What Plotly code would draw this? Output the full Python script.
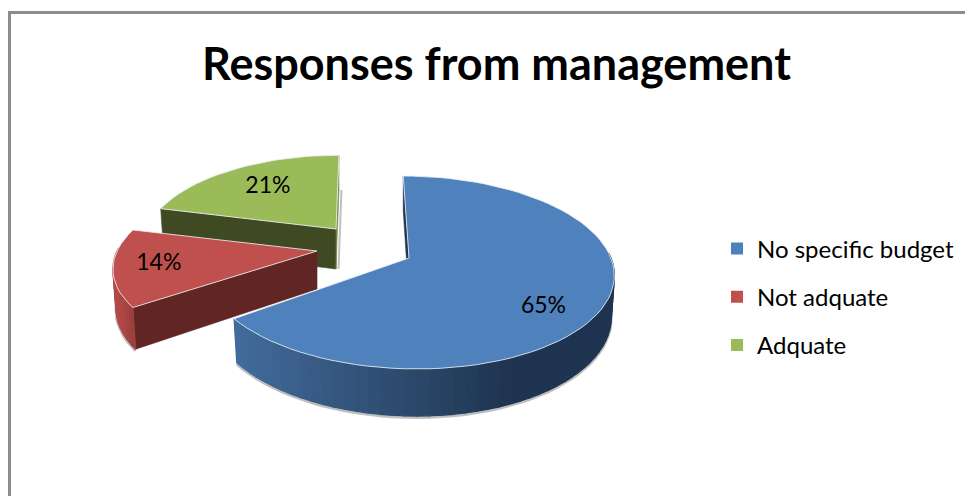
import math
import plotly.graph_objects as go

CATEGORIES = ["No specific budget", "Not adquate", "Adquate"]
PERCENTS = [65, 14, 21]
TITLE = "Responses from management"

TOP_COLORS = ["#4f81bd", "#c0504d", "#9bbb59"]
RADIAL_START = ["#1f3550", "#612524", "#3f4922"]
RADIAL_END = [None, None, "#6f8a3f"]
WALL_LIGHT = ["#426c9c", "#b44a47", "#7f9a49"]
WALL_DARK = ["#1f3450", "#8f3a38", "#3f4922"]
WALL_RANGE = [(233, 510), (116, 138), (150, 340)]

# per-slice placement of the exploded pie (canvas px)
APEX = [(409, 258), (317, 251), (336, 229)]
SCALE_X = [0.985, 0.975, 0.92]
SCALE_Y = [1.0, 0.93, 0.90]
SKEW_X = [0.07, -0.12, -0.04]
DEPTH = [40, 38, 40]
LABEL_F = [0.70, 0.78, 0.65]
LABEL_DY = [18, 0, -1]

RX, RY, PERSP = 205.0, 94.3, 0.15


def project(i, t_deg, f=1.0, depth=0.0):
    t = math.radians(t_deg)
    v = -math.cos(t) * f
    s = 1.0 / (1.0 - PERSP * v)
    X = RX * math.sin(t) * f * s * SCALE_X[i]
    Y = RY * v * s * SCALE_Y[i]
    d = depth * s
    k = 1.0 - 0.015 * (1 if depth else 0)
    return (APEX[i][0] + X * k + SKEW_X[i] * Y, APEX[i][1] + Y + d)


def mix(a, b, u):
    u = max(0.0, min(1.0, u))
    ca = [int(a[j:j + 2], 16) for j in (1, 3, 5)]
    cb = [int(b[j:j + 2], 16) for j in (1, 3, 5)]
    return "rgb(%d,%d,%d)" % tuple(round(x + (y - x) * u) for x, y in zip(ca, cb))


def poly(fig, pts, color, line=None, width=1.3):
    fig.add_trace(go.Scatter(
        x=[p[0] for p in pts] + [pts[0][0]],
        y=[p[1] for p in pts] + [pts[0][1]],
        mode="lines", fill="toself", fillcolor=color,
        line=dict(color=line or color, width=width),
        hoverinfo="skip", showlegend=False))


def open_line(fig, pts, color, width):
    fig.add_trace(go.Scatter(
        x=[p[0] for p in pts], y=[p[1] for p in pts], mode="lines",
        line=dict(color=color, width=width), hoverinfo="skip", showlegend=False))


fig = go.Figure()
total = sum(PERCENTS)
edges = [0.0]
for p in PERCENTS:
    edges.append(edges[-1] + 360.0 * p / total)

labels = []
for i in [2, 1, 0]:
    t0, t1 = edges[i], edges[i + 1]
    D = DEPTH[i]
    apex_top = project(i, t0, 0.0)
    apex_bot = project(i, t0, 0.0, D)
    n = max(8, int((t1 - t0) / 3))
    ts = [t0 + (t1 - t0) * k / n for k in range(n + 1)]

    # soft ground shadow under the front wall
    front = [t for t in ts if -math.cos(math.radians(t)) > -0.05]
    if front:
        open_line(fig, [(project(i, t, 1.0, D)[0], project(i, t, 1.0, D)[1] + 1.5) for t in front],
                  "rgba(110,110,110,0.45)", 3)

    # radial walls
    a, b = project(i, t0), project(i, t0, 1.0, D)
    poly(fig, [apex_top, a, b, apex_bot], RADIAL_START[i], width=0.6)
    if RADIAL_END[i]:
        a, b = project(i, t1), project(i, t1, 1.0, D)
        open_line(fig, [(a[0] + 2.5, a[1] + 35), (b[0] + 2.5, b[1]), (apex_bot[0] + 2.5, apex_bot[1])],
                  "rgba(130,130,130,0.5)", 2)
        poly(fig, [apex_top, a, b, apex_bot], RADIAL_END[i], width=0.6)

    # outer curved wall
    lo, hi = WALL_RANGE[i]
    for k in range(n):
        m = 0.5 * (ts[k] + ts[k + 1])
        if -math.cos(math.radians(m)) > -0.05:
            p0, p1 = project(i, ts[k]), project(i, ts[k + 1])
            q0, q1 = project(i, ts[k], 1.0, D), project(i, ts[k + 1], 1.0, D)
            u = ((p0[0] + p1[0]) / 2 - lo) / (hi - lo)
            poly(fig, [p0, p1, q1, q0], mix(WALL_LIGHT[i], WALL_DARK[i], u))

    # top face
    top = [apex_top] + [project(i, t) for t in ts]
    poly(fig, top, TOP_COLORS[i], line="rgba(235,240,245,0.85)", width=1)

    mid = 0.5 * (t0 + t1)
    lx, ly = project(i, mid, LABEL_F[i])
    labels.append((lx, ly + LABEL_DY[i], f"{PERCENTS[i]}%"))

# data labels
fig.add_trace(go.Scatter(
    x=[l[0] for l in labels], y=[l[1] for l in labels], text=[l[2] for l in labels],
    mode="text", textposition="middle center",
    textfont=dict(family="Lato", size=23, color="#000000"),
    hoverinfo="skip", showlegend=False))

# legend entries
for name, color in zip(CATEGORIES, TOP_COLORS):
    fig.add_trace(go.Scatter(
        x=[None], y=[None], mode="markers", name=name, legendgroup=name,
        marker=dict(symbol="square", size=12, color=color)))

fig.update_layout(
    width=973, height=496,
    margin=dict(l=0, r=0, t=0, b=0),
    paper_bgcolor="white", plot_bgcolor="white",
    xaxis=dict(range=[8, 981], visible=False, fixedrange=True),
    yaxis=dict(range=[504, 8], visible=False, fixedrange=True),
    title=dict(text=f"<b>{TITLE}</b>", x=0.502, xanchor="center", y=0.887, yanchor="middle",
               font=dict(family="Lato", size=45, color="#000000")),
    legend=dict(x=0.7287, y=0.5595, xanchor="left", yanchor="top", tracegroupgap=14,
                font=dict(family="Lato", size=24, color="#000000"), bgcolor="rgba(0,0,0,0)"),
    shapes=[
        dict(type="line", xref="x", yref="y", x0=9.5, x1=9.5, y0=12, y1=504,
             line=dict(color="#8c8c8c", width=3)),
        dict(type="line", xref="x", yref="y", x0=8, x1=981, y0=12.5, y1=12.5,
             line=dict(color="#8c8c8c", width=3)),
    ],
)
fig.write_html("out.html")
